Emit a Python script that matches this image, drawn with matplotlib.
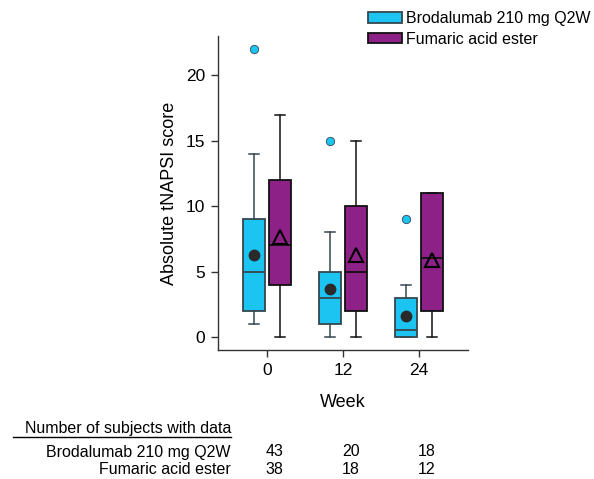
import matplotlib
matplotlib.use("Agg")
import matplotlib.pyplot as plt
import matplotlib.transforms as mtransforms
from matplotlib.patches import Patch

plt.rcParams['font.family'] = ['Liberation Sans', 'DejaVu Sans']

weeks = ["0", "12", "24"]
groups = ["Brodalumab 210 mg Q2W", "Fumaric acid ester"]
colors = ["#1bc4f1", "#8d2187"]
edges = ["#35474f", "#111111"]

# per week: whisker low, Q1, median, Q3, whisker high
brod_stats = [[1, 2, 5, 9, 14], [0, 1, 3, 5, 8], [0, 0, 0.5, 3, 4]]
fae_stats = [[0, 4, 7, 12, 17], [0, 2, 5, 10, 15], [0, 2, 6, 11, 11]]
brod_means = [6.3, 3.65, 1.6]
fae_means = [7.6, 6.25, 5.9]
brod_fliers = [[22], [15], [9]]
fae_fliers = [[], [], []]
n_brod = [43, 20, 18]
n_fae = [38, 18, 12]

fig = plt.figure(figsize=(5.94, 4.79), dpi=100)
ax = fig.add_axes([0.367, 0.2693, 0.421, 0.6555])

off = 0.175
width = 0.29
series = [(brod_stats, brod_means, brod_fliers), (fae_stats, fae_means, fae_fliers)]
for k, (stats, means, fliers) in enumerate(series):
    sign = -1 if k == 0 else 1
    bstats = []
    for s, m, f in zip(stats, means, fliers):
        bstats.append(dict(whislo=s[0], q1=s[1], med=s[2], q3=s[3], whishi=s[4],
                           mean=m, fliers=f))
    pos = [i + sign * off for i in range(len(weeks))]
    ax.bxp(bstats, positions=pos, widths=width, patch_artist=True,
           showmeans=False, capwidths=0.13,
           boxprops=dict(facecolor=colors[k], edgecolor=edges[k], linewidth=1.3),
           medianprops=dict(color=edges[k], linewidth=1.3),
           whiskerprops=dict(color=edges[k], linewidth=1.1),
           capprops=dict(color=edges[k], linewidth=1.1),
           flierprops=dict(marker='o', markerfacecolor=colors[k],
                           markeredgecolor=edges[k], markersize=6, markeredgewidth=0.6))
    if k == 0:
        ax.plot(pos, means, 'o', color='#2a2a2a', markersize=7.5, zorder=5)
    else:
        ax.plot(pos, means, '^', markerfacecolor='none', markeredgecolor='black',
                markersize=10, markeredgewidth=1.5, zorder=5)

ax.set_xlim(-0.645, 2.645)
ax.set_ylim(-1, 23)
ax.set_yticks([0, 5, 10, 15, 20])
ax.set_xticks(range(len(weeks)))
ax.set_xticklabels(weeks)
ax.spines['top'].set_visible(False)
ax.spines['right'].set_visible(False)
for sp in ['left', 'bottom']:
    ax.spines[sp].set_color('#333333')
    ax.spines[sp].set_linewidth(1.0)
ax.tick_params(axis='both', labelsize=12.5, length=5, width=1.0, color='#333333', pad=4)
ax.set_ylabel("Absolute tNAPSI score", fontsize=13, labelpad=6)
ax.set_xlabel("Week", fontsize=13, labelpad=12)

handles = [Patch(facecolor=colors[i], edgecolor=edges[i], linewidth=1.3) for i in range(2)]
fig.legend(handles, groups, loc='upper left', bbox_to_anchor=(0.609, 0.99),
           frameon=False, fontsize=11.5, handlelength=2.1, handleheight=0.6,
           handletextpad=0.25, labelspacing=0.35, borderaxespad=0)

# table of subject counts
fig.text(231 / 594, 1 - 428 / 479, "Number of subjects with data", ha='right', va='center', fontsize=11.5)
fig.add_artist(plt.Line2D([13 / 594, 231 / 594], [1 - 437 / 479, 1 - 437 / 479],
                          color='black', linewidth=1.0))
trans = mtransforms.blended_transform_factory(ax.transData, fig.transFigure)
rows = [(groups[0], n_brod, 452), (groups[1], n_fae, 469)]
for label, counts, ypx in rows:
    fig.text(231 / 594, 1 - ypx / 479, label, ha='right', va='center', fontsize=11.5)
    for i, n in enumerate(counts):
        ax.text(i + 0.1, 1 - ypx / 479, str(n), transform=trans, ha='center',
                va='center', fontsize=11.5, clip_on=False)

fig.savefig("out.png", dpi=100)
